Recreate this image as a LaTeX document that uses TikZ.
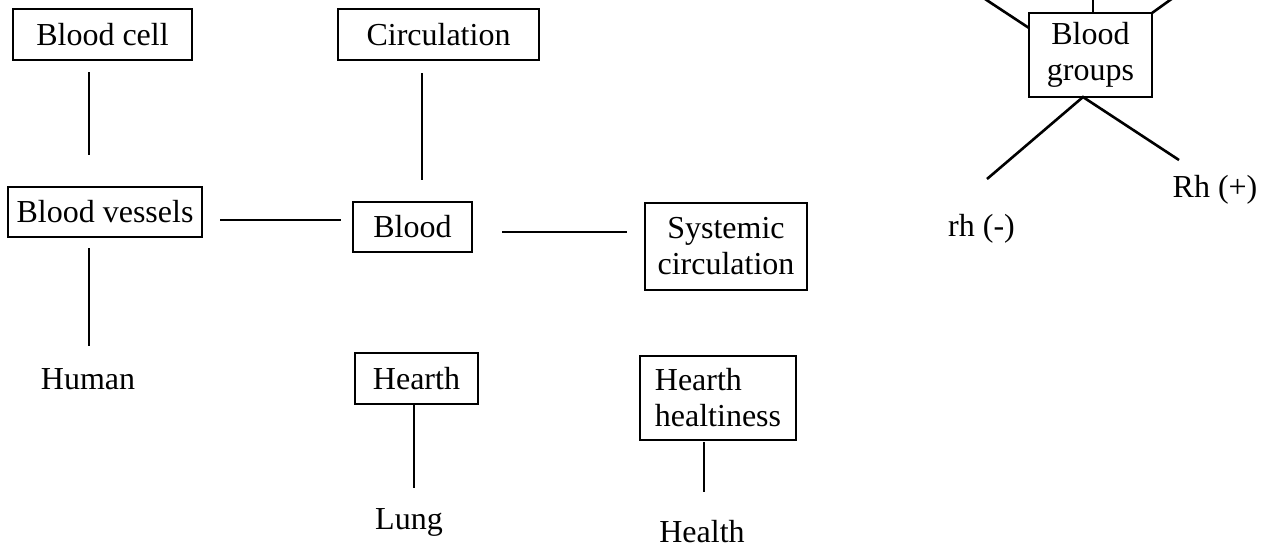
\documentclass[tikz,border=0pt]{standalone}
\usepackage{fontspec}
\setmainfont{Liberation Serif}
\begin{document}
\begin{tikzpicture}[x=0.5pt,y=-0.5pt,
  txt/.style={font=\fontsize{16pt}{18pt}\selectfont, inner sep=0pt},
  boxnode/.style={txt, draw, line width=1.3pt, align=center},
  word/.style={txt, anchor=base},
  link/.style={line width=1.3pt}]
\useasboundingbox (0,0) rectangle (1269,548);

% boxed topics
\node[boxnode, minimum width=89.5pt, minimum height=25.5pt] (cell) at (102.5,34.5) {Blood cell};
\node[boxnode, minimum width=100.5pt, minimum height=25.5pt] (circ) at (438.5,34.5) {Circulation};
\node[boxnode, minimum width=97pt, minimum height=25pt] (vessels) at (105,212) {Blood vessels};
\node[boxnode, minimum width=59.5pt, minimum height=25pt] (blood) at (412.5,227) {Blood};
\node[boxnode, minimum width=81pt, minimum height=43.5pt] (sys) at (726,246.5) {Systemic\\circulation};
\node[boxnode, minimum width=61.5pt, minimum height=25.5pt] (hearth) at (416.5,378.5) {Hearth};
\node[boxnode, align=left, minimum width=78pt, minimum height=42pt] (hh) at (718,398) {Hearth\\healtiness};
\node[boxnode, minimum width=61.5pt, minimum height=42pt] (groups) at (1090.5,55) {Blood\\groups};

% plain labels
\node[word] (human) at (88,389) {Human};
\node[word] (lung) at (409,529) {Lung};
\node[word] (health) at (702,542) {Health};
\node[word] (rhp) at (1215,197) {Rh (+)};
\node[word] (rhm) at (981.5,236) {rh (-)};

% free line ends
\coordinate (a1) at (89,72);   \coordinate (a2) at (89,155);
\coordinate (b1) at (422,73);  \coordinate (b2) at (422,180);
\coordinate (c1) at (220,220); \coordinate (c2) at (341,220);
\coordinate (d1) at (502,232); \coordinate (d2) at (627,232);
\coordinate (e1) at (89,248);  \coordinate (e2) at (89,346);
\coordinate (f1) at (414,404); \coordinate (f2) at (414,488);
\coordinate (g1) at (704,442); \coordinate (g2) at (704,492);
\coordinate (h0) at (1083,97);
\coordinate (h1) at (987,179); \coordinate (h2) at (1179,160);
\coordinate (t1) at (1029,28); \coordinate (t1e) at (985,-1);
\coordinate (t2) at (1093,13); \coordinate (t2e) at (1093,-1);
\coordinate (t3) at (1152,13); \coordinate (t3e) at (1171.5,-1);

% connectors
\draw[link] (a1) -- (a2);
\draw[link] (b1) -- (b2);
\draw[link] (c1) -- (c2);
\draw[link] (d1) -- (d2);
\draw[link] (e1) -- (e2);
\draw[link] (f1) -- (f2);
\draw[link] (g1) -- (g2);
\draw[link] (h1) -- (h0) -- (h2);
\draw[link] (t1) -- (t1e);
\draw[link] (t2) -- (t2e);
\draw[link] (t3) -- (t3e);
\end{tikzpicture}
\end{document}
